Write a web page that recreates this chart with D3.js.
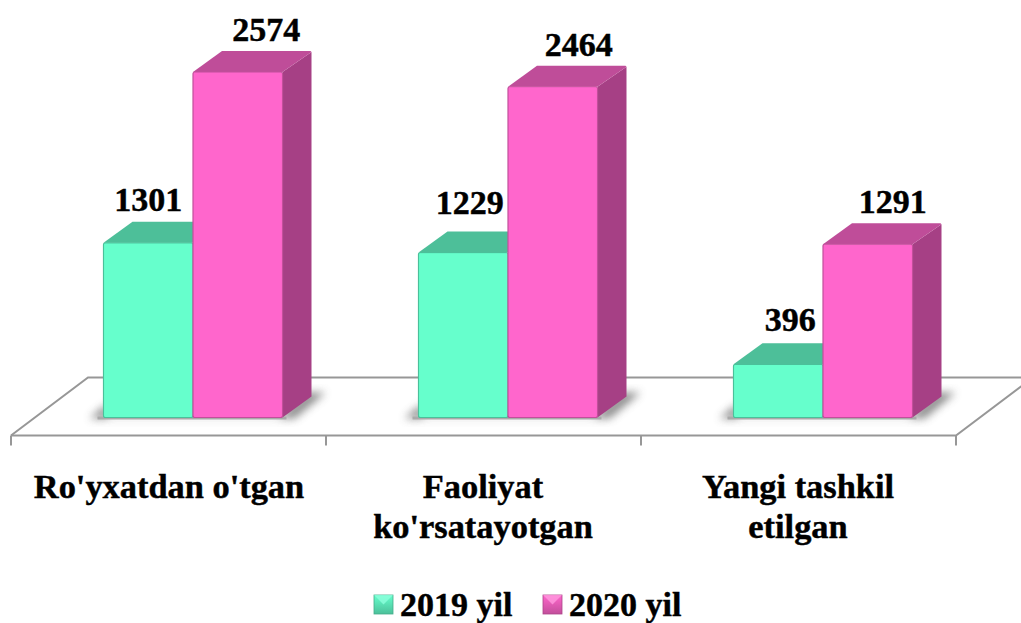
<!DOCTYPE html>
<html><head><meta charset="utf-8">
<script src="https://cdn.jsdelivr.net/npm/d3@7"></script>
<style>html,body{margin:0;padding:0;background:#fff;overflow:hidden}svg{display:block}text{font-family:"Liberation Serif",serif;font-weight:bold;fill:#000;stroke:#000;stroke-width:.45px}</style>
</head><body><svg id="c" width="1021" height="623"></svg>
<script>
const categories = [["Ro'yxatdan o'tgan"],["Faoliyat","ko'rsatayotgan"],["Yangi tashkil","etilgan"]];
const seriesNames = ["2019 yil","2020 yil"];
const values2019 = [1301,1229,396];
const values2020 = [2574,2464,1291];

const W=1021,H=623, floorFront=435.5, base=417.5, dx=29, dy=-21;
const svg=d3.select("#c");
const defs=svg.append("defs");
defs.append("filter").attr("id","blur").attr("x","-30%").attr("y","-30%").attr("width","160%").attr("height","160%")
  .append("feGaussianBlur").attr("stdDeviation",4);
defs.append("filter").attr("id","soft").attr("x","-5%").attr("y","-5%").attr("width","110%").attr("height","110%")
  .append("feGaussianBlur").attr("stdDeviation",.7);

const x0=d3.scaleBand().domain(d3.range(categories.length)).range([11,956]).paddingInner(0).paddingOuter(0);
const y=d3.scaleLinear().domain([0,2574]).range([base,72]);
const barW=89.5, leftPad=92.5;
const colors=[{front:"#66FFCC",top:"#4DBF99",side:"#40A680",edge:"#4cc09a",light:"#8dffdc",dark:"#45ad8b"},
              {front:"#FF66CC",top:"#BF4D99",side:"#A64085",edge:"#c24f9b",light:"#ff9ade",dark:"#ad4489"}];
const series=[values2019,values2020];

// floor
const fg=svg.append("g").attr("fill","none").attr("stroke","#979797").attr("stroke-width",2);
const backY=377.5, backDx=77;
fg.append("path").attr("d",`M${x0.range()[0]},${floorFront}L${x0.range()[0]+backDx},${backY}H${W}`);
fg.append("path").attr("d",`M${x0.range()[0]},${floorFront}H${x0.range()[1]}L${x0.range()[1]+backDx},${backY}`);
const ticks=d3.range(categories.length+1).map(i=>x0.range()[0]+i*x0.step());
fg.selectAll("line").data(ticks).join("line").attr("x1",d=>d).attr("x2",d=>d).attr("y1",floorFront).attr("y2",floorFront+10);

// shadows
categories.forEach((c,i)=>{
  const l=x0(i)+leftPad, r=l+2*barW;
  svg.append("path").attr("filter","url(#blur)").attr("fill","#777").attr("opacity",.85)
    .attr("d",`M${l-14},${base+1}L${l+4},${base-14}V${base}H${r-4}L${r+dx-4},${base+dy-4}H${r+dx+14}L${r+12},${base+1}Z`);
  svg.append("rect").attr("x",l-6).attr("y",base-1).attr("width",2*barW+10).attr("height",3).attr("fill","#aaa").attr("filter","url(#soft)");
});

// bars
series.forEach((vals,s)=>{
  const col=colors[s];
  const g=svg.append("g");
  vals.forEach((v,i)=>{
    const l=x0(i)+leftPad+s*barW, r=l+barW, t=y(v);
    g.append("path").attr("fill",col.side).attr("d",`M${r},${t}L${r+dx},${t+dy+1}V${base+dy}L${r},${base}Z`);
    g.append("path").attr("fill",col.top).attr("d",`M${l},${t}L${l+dx},${t+dy}H${r+dx-1}L${r+dx},${t+dy+1}L${r},${t}Z`);
    g.append("rect").attr("x",l).attr("y",t).attr("width",barW).attr("height",base-t).attr("rx",2)
      .attr("fill",col.front).attr("stroke",col.edge).attr("stroke-width",1.2).attr("filter","url(#soft)");
    g.append("rect").attr("x",l+1).attr("y",t+1).attr("width",barW-2).attr("height",base-t-2).attr("fill",col.front);
  });
});

// value labels
const labelShift=[[0,28.5],[6.5,26],[12,25]]; // horizontal nudge from bar centre
const labelRise=[[32,31],[39,31],[33,31]];     // baseline rise above bar top
series.forEach((vals,s)=>{
  svg.append("g").selectAll("text").data(vals).join("text")
    .attr("x",(v,i)=>x0(i)+leftPad+s*barW+barW/2+labelShift[i][s])
    .attr("y",(v,i)=>y(v)-labelRise[i][s])
    .attr("text-anchor","middle").attr("font-size",34).text(d=>d);
});

// category labels
const labelCx=[169,483,798];
categories.forEach((lines,i)=>{
  const t=svg.append("text").attr("text-anchor","middle").attr("font-size",34.4);
  lines.forEach((ln,j)=>t.append("tspan").attr("x",labelCx[i]).attr("y",498+j*40).text(ln));
});

// legend
const lg=svg.append("g");
colors.forEach((c,i)=>{
  const lx=[374,543][i], ty=595, sz=19;
  const gid="lg"+i;
  const gr=defs.append("linearGradient").attr("id",gid).attr("x1",0).attr("y1",0).attr("x2",0).attr("y2",1);
  gr.append("stop").attr("offset",0).attr("stop-color",c.front);
  gr.append("stop").attr("offset",1).attr("stop-color",c.edge);
  lg.append("rect").attr("x",lx).attr("y",ty).attr("width",sz).attr("height",sz).attr("fill",`url(#${gid})`).attr("stroke",c.dark).attr("stroke-width",.8);
  lg.append("path").attr("d",`M${lx},${ty}H${lx+sz}L${lx+sz/2},${ty+sz*0.5}Z`).attr("fill",c.light).attr("opacity",.8);
  lg.append("text").attr("x",lx+26).attr("y",616).attr("font-size",34).text(seriesNames[i]);
});
</script></body></html>
